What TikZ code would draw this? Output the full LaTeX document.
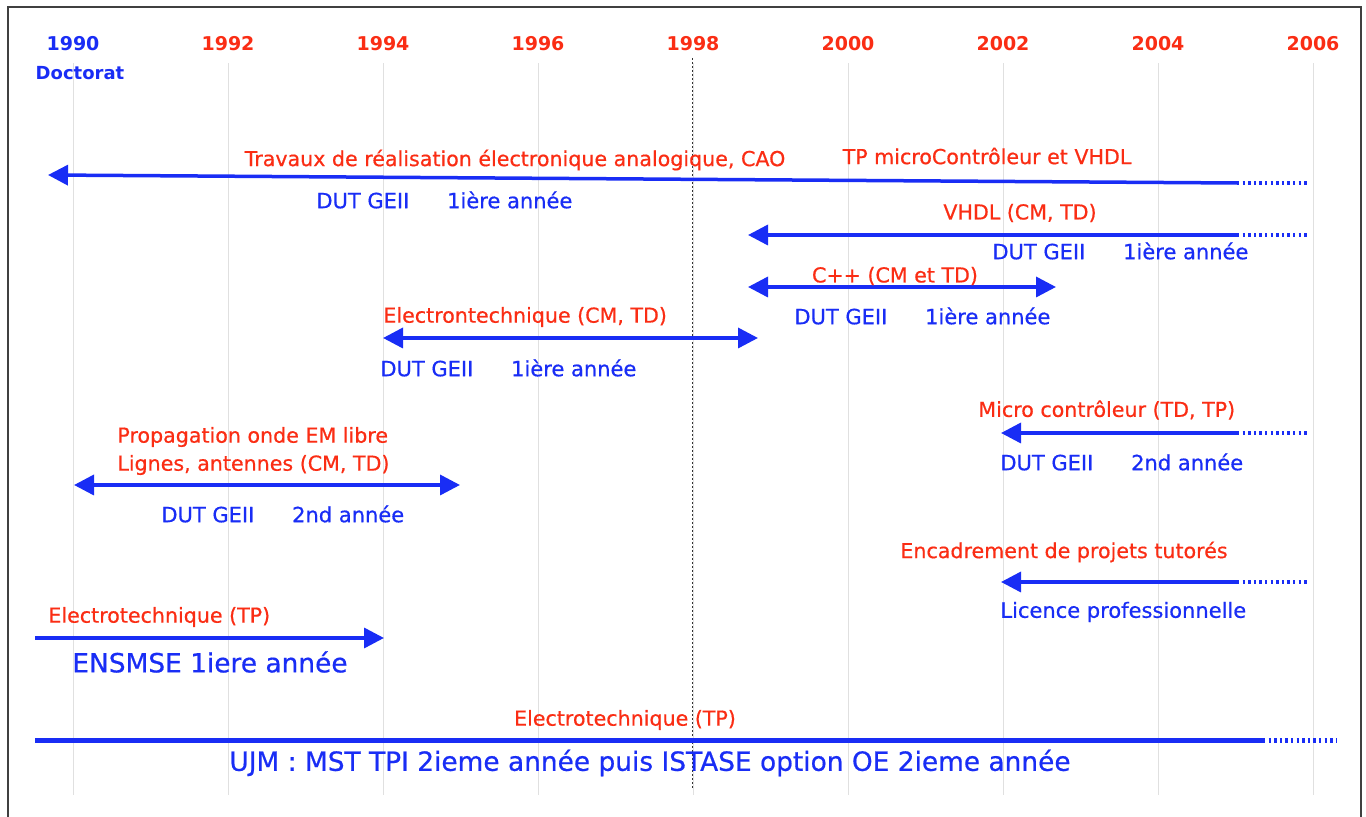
\documentclass[tikz,border=0pt]{standalone}
\usepackage{fontspec}
\setmainfont{DejaVu Sans}
\newfontfamily\tlfont[FakeBold=0.6]{DejaVu Sans}
\usepackage{tikz}
\usetikzlibrary{arrows.meta,positioning}
\definecolor{tlblue}{RGB}{25,45,245}
\definecolor{tlred}{RGB}{250,45,20}
\tikzset{
  year/.style={font=\bfseries\fontsize{9.5}{11}\selectfont, text=tlred},
  redtxt/.style={font=\tlfont\fontsize{10.3}{12}\selectfont, text=tlred, inner sep=0pt},
  bluetxt/.style={font=\tlfont\fontsize{10.5}{12}\selectfont, text=tlblue, inner sep=0pt},
  bigblue/.style={font=\tlfont\fontsize{13.2}{15}\selectfont, text=tlblue, inner sep=0pt},
  period/.style={draw=tlblue, line width=1.75pt},
  tip/.style={-{Triangle[length=10pt,width=10pt]}},
  bothtips/.style={{Triangle[length=10pt,width=10pt]}-{Triangle[length=10pt,width=10pt]}},
  stillon/.style={draw=tlblue, line width=1.75pt, dash pattern=on 1.2pt off 1.6pt},
}
\newcommand{\dutgeii}[1]{DUT GEII\hspace{1.8em}#1}
\begin{document}
\begin{tikzpicture}[x=0.5pt,y=-0.5pt]
  \useasboundingbox (0,0) rectangle (1366,817);

  % frame
  \draw[black!75, line width=1pt] (8,830) -- (8,7) -- (1361,7) -- (1361,830);

  % year grid
  \foreach \yr [count=\i from 0] in {1990,1992,...,2006} {
    \draw[black!12, line width=0.5pt] ({73+155*\i},63) -- ({73+155*\i},795);
    \node[year] (y\yr) at ({73+155*\i},44) {\yr};
  }
  \node[year, text=tlblue, fill=white] at (y1990) {1990};
  \node[bluetxt, font=\bfseries\fontsize{9}{10}\selectfont] (doct) at (80,73) {Doctorat};
  \draw[black!80, line width=0.5pt, dash pattern=on 1pt off 1pt] (692,58) -- (692,790);

  % Travaux de realisation / TP microcontroleur
  \coordinate (travS) at (48,175);
  \coordinate (travE) at (1237,183);
  \coordinate (travD) at (1308,183);
  \draw[period, tip] (travE) -- (travS);
  \draw[stillon] (travE) -- (travD);
  \node[redtxt] (trav) at (515,160) {Travaux de réalisation électronique analogique, CAO};
  \node[redtxt] (tpmc) at (987,156) {TP microContrôleur et VHDL};
  \node[bluetxt, anchor=west] (travB) at (316,200) {\dutgeii{1ière année}};

  % VHDL
  \coordinate (vhdlS) at (748,235);
  \coordinate (vhdlE) at (1237,235);
  \coordinate (vhdlD) at (1308,235);
  \draw[period, tip] (vhdlE) -- (vhdlS);
  \draw[stillon] (vhdlE) -- (vhdlD);
  \node[redtxt] (vhdl) at (1020,213) {VHDL (CM, TD)};
  \node[bluetxt, anchor=west] (vhdlB) at (992,251) {\dutgeii{1ière année}};

  % C++
  \coordinate (cppS) at (748,287);
  \coordinate (cppE) at (1056,287);
  \draw[period, bothtips] (cppS) -- (cppE);
  \node[redtxt] (cpp) at (895,276) {C++ (CM et TD)};
  \node[bluetxt, anchor=west] (cppB) at (794,316) {\dutgeii{1ière année}};

  % Electrontechnique
  \coordinate (elecS) at (383,338);
  \coordinate (elecE) at (758,338);
  \draw[period, bothtips] (elecS) -- (elecE);
  \node[redtxt, anchor=west] (elec) at (383,317) {Electrontechnique (CM, TD)};
  \node[bluetxt, anchor=west] (elecB) at (380,368) {\dutgeii{1ière année}};

  % Micro controleur
  \coordinate (microS) at (1001,433);
  \coordinate (microE) at (1237,433);
  \coordinate (microD) at (1308,433);
  \draw[period, tip] (microE) -- (microS);
  \draw[stillon] (microE) -- (microD);
  \node[redtxt, anchor=west] (micro) at (978,410) {Micro contrôleur (TD, TP)};
  \node[bluetxt, anchor=west] (microB) at (1000,462) {\dutgeii{2nd année}};

  % Propagation
  \coordinate (propS) at (74,485);
  \coordinate (propE) at (460,485);
  \draw[period, bothtips] (propS) -- (propE);
  \node[redtxt, anchor=west, align=left] (prop) at (117,451)
    {Propagation onde EM libre\\[2pt]Lignes, antennes (CM, TD)};
  \node[bluetxt, anchor=west] (propB) at (161,514) {\dutgeii{2nd année}};

  % Encadrement
  \coordinate (encS) at (1001,582);
  \coordinate (encE) at (1237,582);
  \coordinate (encD) at (1308,582);
  \draw[period, tip] (encE) -- (encS);
  \draw[stillon] (encE) -- (encD);
  \node[redtxt, anchor=west] (enc) at (900,552) {Encadrement de projets tutorés};
  \node[bluetxt, anchor=west] (encB) at (1000,612) {Licence professionnelle};

  % ENSMSE
  \coordinate (ensS) at (35,638);
  \coordinate (ensE) at (384,638);
  \draw[period, tip] (ensS) -- (ensE);
  \node[redtxt, anchor=west] (ens) at (48,617) {Electrotechnique (TP)};
  \node[bigblue, anchor=west] (ensB) at (72,662) {ENSMSE 1iere année};

  % UJM
  \coordinate (ujmS) at (35,741);
  \coordinate (ujmE) at (1263,741);
  \coordinate (ujmD) at (1336,741);
  \draw[period, line width=2.5pt] (ujmS) -- (ujmE);
  \draw[stillon, line width=2.5pt] (ujmE) -- (ujmD);
  \node[redtxt] (ujm) at (625,720) {Electrotechnique (TP)};
  \node[bigblue] (ujmB) at (650,763) {UJM : MST TPI 2ieme année puis ISTASE option OE 2ieme année};
\end{tikzpicture}
\end{document}
